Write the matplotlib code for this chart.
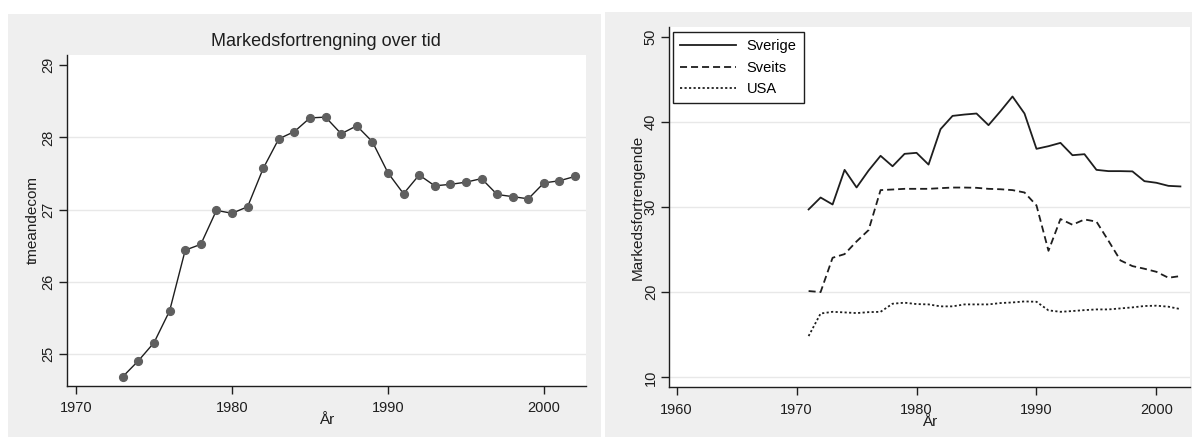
import matplotlib
matplotlib.use("Agg")
import matplotlib.pyplot as plt
from matplotlib.patches import Rectangle

plt.rcParams['font.family'] = ['Liberation Sans', 'DejaVu Sans']

# Left panel: average per year
years_left = list(range(1973, 2003))
tmeandecom = [24.69, 24.91, 25.16, 25.60, 26.44, 26.52, 26.99, 26.95, 27.04, 27.57,
              27.98, 28.08, 28.27, 28.28, 28.05, 28.16, 27.94, 27.51, 27.22, 27.48,
              27.33, 27.35, 27.38, 27.43, 27.21, 27.18, 27.15, 27.37, 27.40, 27.46]
left_yticks = [25, 26, 27, 28, 29]
left_xticks = [1970, 1980, 1990, 2000]

# Right panel: three countries
years_right = list(range(1971, 2003))
sverige = [29.73, 31.13, 30.31, 34.38, 32.31, 34.30, 36.03, 34.80, 36.26, 36.38,
           35.00, 39.16, 40.72, 40.88, 41.00, 39.63, 41.27, 43.00, 41.00, 36.85,
           37.16, 37.55, 36.10, 36.22, 34.38, 34.23, 34.23, 34.20, 33.05, 32.86,
           32.50, 32.43]
sveits = [20.14, 20.02, 24.05, 24.48, 25.97, 27.30, 32.00, 32.07, 32.15, 32.15,
          32.15, 32.23, 32.30, 32.30, 32.27, 32.15, 32.10, 32.00, 31.72, 30.20,
          24.87, 28.60, 27.93, 28.55, 28.30, 26.05, 23.74, 23.07, 22.76, 22.40,
          21.70, 21.90]
usa = [14.85, 17.50, 17.70, 17.63, 17.55, 17.66, 17.70, 18.65, 18.77, 18.61,
       18.57, 18.34, 18.34, 18.57, 18.57, 18.57, 18.73, 18.80, 18.92, 18.88,
       17.87, 17.70, 17.79, 17.90, 17.98, 17.98, 18.10, 18.22, 18.38, 18.42,
       18.30, 18.02]
right_yticks = [10, 20, 30, 40, 50]
right_xticks = [1960, 1970, 1980, 1990, 2000]

W, H = 1192, 437
fig = plt.figure(figsize=(W / 100, H / 100), dpi=100)
fig.patch.set_facecolor('white')

panel_gray = '#efefef'
grid_gray = '#e8e8e8'
ink = '#1e1e1e'

# gray panel backgrounds (pixel -> figure fraction), behind the axes
fig.patches.append(Rectangle((8 / W, 0), (601 - 8) / W, (H - 14) / H,
                             transform=fig.transFigure, facecolor=panel_gray,
                             edgecolor='none', zorder=-10))
fig.patches.append(Rectangle((605 / W, 0), (W - 605) / W, (H - 12) / H,
                             transform=fig.transFigure, facecolor=panel_gray,
                             edgecolor='none', zorder=-10))


def style_axes(ax, xticks, yticks):
    ax.set_zorder(2)
    ax.set_facecolor('white')
    for s in ['top', 'right']:
        ax.spines[s].set_visible(False)
    for s in ['left', 'bottom']:
        ax.spines[s].set_color(ink)
        ax.spines[s].set_linewidth(1.0)
    ax.set_xticks(xticks)
    ax.set_yticks(yticks)
    ax.tick_params(direction='out', length=6, width=1.0, color=ink,
                   labelsize=10.5, labelcolor=ink)
    ax.tick_params(axis='x', pad=5)
    ax.tick_params(axis='y', pad=2)
    for lab in ax.get_yticklabels():
        lab.set_rotation(90)
        lab.set_va('center')
    # gridlines at all but the top tick
    for v in yticks[:-1]:
        ax.axhline(v, color=grid_gray, lw=1.0, zorder=1)


# ---- left chart
ax1 = fig.add_axes([66.7 / W, (H - 386) / H, (586 - 66.7) / W, (386 - 55) / H])
style_axes(ax1, left_xticks, left_yticks)
ax1.set_xlim(1969.4, 2002.7)
ax1.set_ylim(24.56, 29.14)
ax1.plot(years_left, tmeandecom, color=ink, lw=1.0, zorder=3)
ax1.plot(years_left, tmeandecom, 'o', color='#5f5f5f', ms=5.6, mec='#5f5f5f', zorder=4)
ax1.set_ylabel('tmeandecom', fontsize=11, color=ink)
ax1.yaxis.set_label_coords(-0.051, 0.5)
ax1.set_xlabel('År', fontsize=11, color=ink)
ax1.xaxis.set_label_coords(0.5, -0.083)
fig.text(326 / W, (H - 42) / H, 'Markedsfortrengning over tid',
         ha='center', va='center', fontsize=13, color=ink)

# ---- right chart
ax2 = fig.add_axes([669 / W, (H - 387.3) / H, (1190 - 669) / W, (387.3 - 26.7) / H])
style_axes(ax2, right_xticks, right_yticks)
ax2.set_xlim(1959.36, 2002.8)
ax2.set_ylim(8.83, 51.2)
ax2.plot(years_right, sverige, color=ink, lw=1.3, ls='-', label='Sverige', zorder=3)
ax2.plot(years_right, sveits, color=ink, lw=1.3, ls=(0, (3.9, 2.2)), label='Sveits', zorder=3)
ax2.plot(years_right, usa, color=ink, lw=1.3, ls=(0, (1.2, 1.3)), label='USA', zorder=3)
ax2.set_ylabel('Markedsfortrengende', fontsize=11, color=ink)
ax2.yaxis.set_label_coords(-0.047, 0.5)
ax2.set_xlabel('År', fontsize=11, color=ink)
ax2.xaxis.set_label_coords(0.5, -0.078)
leg = ax2.legend(loc='upper left', bbox_to_anchor=(0.008, 0.985), borderaxespad=0,
                 fontsize=10.5, frameon=True, fancybox=False, handlelength=3.8,
                 handletextpad=0.75, labelspacing=0.5, borderpad=0.5)
leg.get_frame().set_edgecolor(ink)
leg.get_frame().set_linewidth(1.0)
leg.get_frame().set_facecolor('white')
leg.get_frame().set_alpha(1.0)

fig.savefig('out.png', dpi=100, facecolor='white')
